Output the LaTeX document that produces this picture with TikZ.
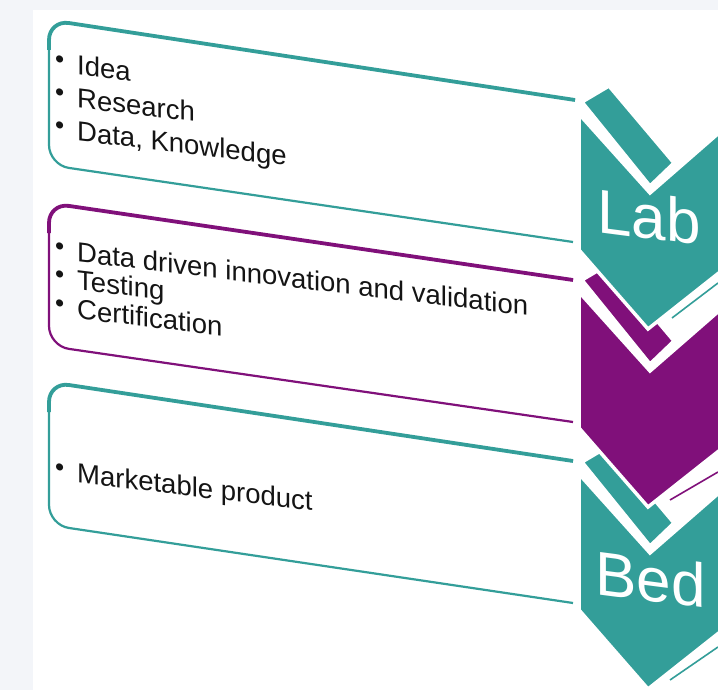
\documentclass[tikz,border=0pt]{standalone}
\usepackage{fontspec}
\setmainfont{Liberation Sans}
\definecolor{tealc}{RGB}{51,158,153}
\definecolor{plumc}{RGB}{128,16,122}
\definecolor{bggray}{RGB}{243,245,249}
\newcommand{\bul}{\makebox[22pt][l]{\raisebox{4.5pt}{\fontsize{26}{26}\selectfont •}}}
\begin{document}
\begin{tikzpicture}[x=1pt,y=-1pt,
  boxline/.style={line width=2.2pt, rounded corners=20pt},
  boxtop/.style={line width=3.8pt, rounded corners=20pt},
  chevshape/.style={draw=white, line width=3.5pt, line join=miter},
  thinedge/.style={line width=1.6pt},
  itemtext/.style={anchor=base west, inner sep=0pt, yslant=-0.12,
    font=\fontsize{27.5}{32}\selectfont, text=black!92},
  chevtext/.style={anchor=base west, inner sep=0pt, yslant=-0.13,
    font=\fontsize{62}{62}\selectfont, text=white}
]
\useasboundingbox (0,0) rectangle (718,690);
\clip (0,0) rectangle (718,690);
\fill[bggray] (0,0) rectangle (718,690);
\fill[white] (33,10) rectangle (718,690);

% boxes
\draw[tealc, boxline] (575,100) -- (49,20) -- (49,165) -- (573,242);
\draw[tealc, boxtop] (575,100) -- (49,20) -- (49,50);
\draw[plumc, boxline] (573,280) -- (49,203) -- (49,346) -- (573,422);
\draw[plumc, boxtop] (573,280) -- (49,203) -- (49,233);
\draw[tealc, boxline] (573,461) -- (49,382) -- (49,525) -- (573,603);
\draw[tealc, boxtop] (573,461) -- (49,382) -- (49,412);

% texts
\node[itemtext] (t1) at (55,72) {\bul Idea};
\node[itemtext] (t2) at (55,105) {\bul Research};
\node[itemtext] (t3) at (55,138) {\bul Data, Knowledge};
\node[itemtext] (t4) at (55,259) {\bul Data driven innovation and validation};
\node[itemtext] (t5) at (55,287) {\bul Testing};
\node[itemtext] (t6) at (55,316) {\bul Certification};
\node[itemtext] (t7) at (55,480) {\bul Marketable product};

% chevrons: Bed (bottom)
\fill[tealc, chevshape] (582,462) -- (609,446) -- (674,523) -- (650,546) -- cycle;
\fill[tealc, chevshape] (579,474) -- (650,553) -- (720,492) -- (720,632) -- (648,689) -- (579,610) -- cycle;
\draw[tealc, thinedge] (670,680) -- (718,647);
% purple
\fill[plumc, chevshape] (582,280) -- (609,264) -- (674,341) -- (650,364) -- cycle;
\fill[plumc, chevshape] (579,292) -- (650,371) -- (720,310) -- (720,450) -- (648,507) -- (579,428) -- cycle;
\draw[plumc, thinedge] (670,500) -- (718,472);
% Lab (top)
\fill[tealc, chevshape] (582,102) -- (609,86) -- (674,163) -- (650,186) -- cycle;
\fill[tealc, chevshape] (579,114) -- (650,193) -- (720,132) -- (720,272) -- (648,329) -- (579,250) -- cycle;
\draw[tealc, thinedge] (672,318) -- (718,283);

\node[chevtext] (lab) at (597,232) {Lab};
\node[chevtext] (bed) at (595,594) {Bed};
\end{tikzpicture}
\end{document}
